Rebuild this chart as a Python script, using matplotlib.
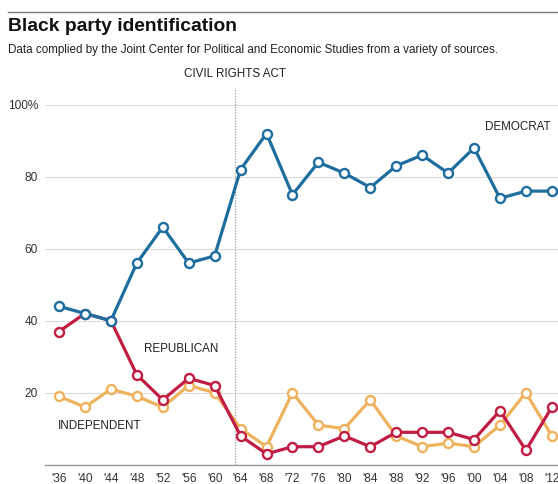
import matplotlib
matplotlib.use("Agg")
import matplotlib.pyplot as plt

plt.rcParams['font.family'] = ['Liberation Sans', 'DejaVu Sans']

years = [1936, 1940, 1944, 1948, 1952, 1956, 1960, 1964, 1968, 1972,
         1976, 1980, 1984, 1988, 1992, 1996, 2000, 2004, 2008, 2012]
year_labels = ["'36", "'40", "'44", "'48", "'52", "'56", "'60", "'64", "'68", "'72",
               "'76", "'80", "'84", "'88", "'92", "'96", "'00", "'04", "'08", "'12"]
democrat = [44, 42, 40, 56, 66, 56, 58, 82, 92, 75, 84, 81, 77, 83, 86, 81, 88, 74, 76, 76]
republican = [37, 42, 40, 25, 18, 24, 22, 8, 3, 5, 5, 8, 5, 9, 9, 9, 7, 15, 4, 16]
independent = [19, 16, 21, 19, 16, 22, 20, 10, 5, 20, 11, 10, 18, 8, 5, 6, 5, 11, 20, 8]
y_ticks = [20, 40, 60, 80, 100]
y_tick_labels = ['20', '40', '60', '80', '100%']
civil_rights_year = 1963.1

W, H = 558, 484
fig = plt.figure(figsize=(W / 100, H / 100), dpi=100)
fig.patch.set_facecolor('white')

# plot area in pixel terms
left_px, right_px, top_px, bottom_px = 45, 558, 104.7, 464.7
ax = fig.add_axes([left_px / W, 1 - bottom_px / H,
                   (right_px - left_px) / W, (bottom_px - top_px) / H])
ax.set_xlim(1933.84, 2012.95)
ax.set_ylim(0, 100)

for s in ['top', 'right', 'left']:
    ax.spines[s].set_visible(False)
ax.spines['bottom'].set_color('#999999')
ax.spines['bottom'].set_linewidth(1.0)

ax.set_yticks(y_ticks)
ax.set_yticklabels(y_tick_labels)
ax.set_xticks(years)
ax.set_xticklabels(year_labels)
ax.tick_params(axis='both', length=0, labelsize=8.6, labelcolor='#333333')
ax.tick_params(axis='y', pad=5)
ax.tick_params(axis='x', pad=6)
for t in ax.get_yticklabels():
    t.set_horizontalalignment('right')

for yv in y_ticks:
    ax.axhline(yv, color='#dcdcdc', lw=0.8, zorder=0)

# Civil Rights Act marker
ax.plot([civil_rights_year, civil_rights_year], [0, 104.6], color='#9a9a9a',
        lw=0.9, ls=(0, (1, 1.2)), clip_on=False, zorder=1)
ax.text(civil_rights_year, 108.4, 'CIVIL RIGHTS ACT', ha='center', va='center',
        fontsize=8.4, color='#222222', clip_on=False)

series = [
    (independent, '#efb25c'),
    (republican, '#c11d44'),
    (democrat, '#1d6e9f'),
]
for i, (vals, col) in enumerate(series):
    ax.plot(years, vals, color=col, lw=2.3, marker='o', markersize=6.5,
            markerfacecolor='white', markeredgecolor=col, markeredgewidth=1.7,
            zorder=3 + i, clip_on=False)

ax.text(2011.8, 93.7, 'DEMOCRAT', ha='right', va='center', fontsize=8.4, color='#222222')
ax.text(1949.1, 32.1, 'REPUBLICAN', ha='left', va='center', fontsize=8.4, color='#222222')
ax.text(1935.8, 10.8, 'INDEPENDENT', ha='left', va='center', fontsize=8.4, color='#222222')

# header
fig.add_artist(plt.Line2D([8 / W, 1.0], [1 - 12.3 / H, 1 - 12.3 / H],
                          color='#7a7a7a', lw=1.0))
fig.text(8 / W, 1 - 31.3 / H, 'Black party identification', ha='left', va='baseline',
         fontsize=13.9, fontweight='bold', color='#111111')
fig.text(8 / W, 1 - 53.4 / H,
         'Data complied by the Joint Center for Political and Economic Studies from a variety of sources.',
         ha='left', va='baseline', fontsize=8.4, color='#222222')

fig.savefig('out.png', dpi=100, facecolor='white')
